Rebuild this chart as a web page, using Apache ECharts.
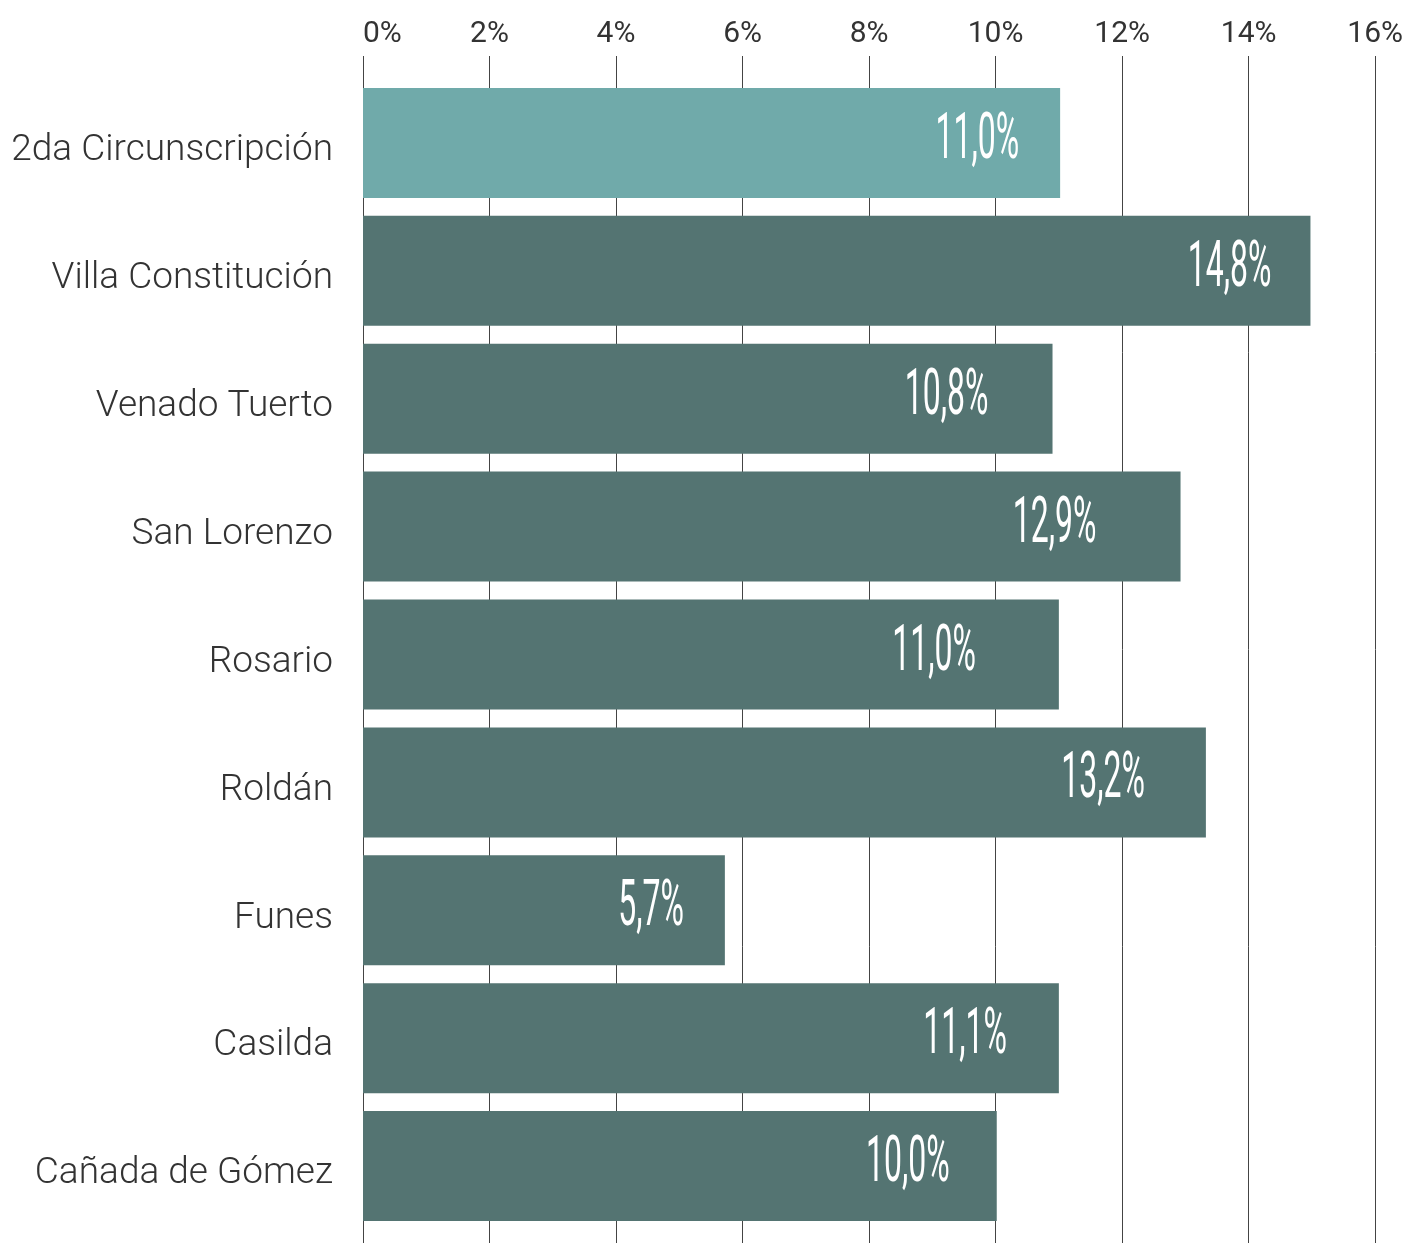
<!DOCTYPE html>
<html>
<head>
<meta charset="utf-8">
<script src="https://cdn.jsdelivr.net/npm/echarts@6/dist/echarts.min.js"></script>
<style>
  html, body { margin: 0; padding: 0; background: #fff; }
  #chart { width: 1406px; height: 1243px; }
</style>
</head>
<body>
<div id="chart"></div>
<script>
// categorias (de arriba hacia abajo)
const categories = [
  '2da Circunscripción',
  'Villa Constitución',
  'Venado Tuerto',
  'San Lorenzo',
  'Rosario',
  'Roldán',
  'Funes',
  'Casilda',
  'Cañada de Gómez'
];
// largo de cada barra (%)
const barValues = [11.0, 14.95, 10.88, 12.9, 10.98, 13.3, 5.71, 10.98, 10.0];
// texto que muestra cada barra
const valueLabels = ['11,0%', '14,8%', '10,8%', '12,9%', '11,0%', '13,2%', '5,7%', '11,1%', '10,0%'];
const xTicks = [0, 2, 4, 6, 8, 10, 12, 14, 16];

// retiro de la etiqueta desde el final de la barra (px)
const labelInset = [41, 39, 64, 84, 83, 61, 41, 52, 47];

const highlightColor = '#70aaaa';
const baseColor = '#547472';

const chart = echarts.init(document.getElementById('chart'));

const option = {
  animation: false,
  grid: [
    // barras
    { left: 363, right: 29, top: 79, bottom: 13 },
    // solo lineas verticales y etiquetas del eje
    { left: 363, right: 29, top: 56, bottom: 0 }
  ],
  xAxis: [
    {
      gridIndex: 0,
      type: 'value',
      min: xTicks[0],
      max: xTicks[xTicks.length - 1],
      interval: 2,
      show: false
    },
    {
      gridIndex: 1,
      type: 'value',
      position: 'top',
      min: xTicks[0],
      max: xTicks[xTicks.length - 1],
      interval: 2,
      axisLine: { show: false },
      axisTick: { show: false },
      splitLine: { show: true, lineStyle: { color: '#444', width: 1 } },
      axisLabel: {
        formatter: '{value}%',
        color: '#333',
        fontSize: 30,
        fontFamily: 'Roboto',
        margin: 7,
        alignMinLabel: 'left'
      }
    }
  ],
  yAxis: [
    {
      gridIndex: 0,
      type: 'category',
      inverse: true,
      data: categories,
      axisLine: { show: false },
      axisTick: { show: false },
      axisLabel: {
        color: '#333',
        fontSize: 37,
        fontWeight: 300,
        fontFamily: 'Roboto',
        margin: 30,
        verticalAlign: 'top',
        lineHeight: 16
      }
    },
    {
      gridIndex: 1,
      type: 'value',
      show: false
    }
  ],
  series: [
    {
      type: 'bar',
      xAxisIndex: 0,
      yAxisIndex: 0,
      barWidth: 110,
      data: barValues.map((v, i) => ({
        value: v,
        itemStyle: { color: i === 0 ? highlightColor : baseColor }
      })),
      z: 3
    },
    {
      type: 'custom',
      xAxisIndex: 0,
      yAxisIndex: 0,
      z: 5,
      data: barValues.map((v, i) => [v, i]),
      renderItem: function (params, api) {
        const p = api.coord([api.value(0), api.value(1)]);
        return {
          type: 'text',
          x: p[0] - labelInset[params.dataIndex],
          y: p[1] - 1,
          scaleX: 0.5,
          style: {
            text: valueLabels[params.dataIndex],
            fill: '#fff',
            fontSize: 64,
            fontWeight: 400,
            fontFamily: 'Roboto',
            align: 'right',
            verticalAlign: 'middle'
          }
        };
      }
    }
  ]
};

chart.setOption(option);
</script>
</body>
</html>
